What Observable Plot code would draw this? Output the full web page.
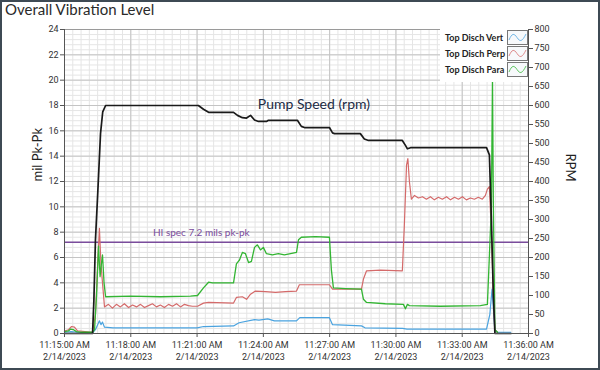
<!DOCTYPE html>
<html>
<head>
<meta charset="utf-8">
<script src="https://cdn.jsdelivr.net/npm/d3@7"></script>
<script src="https://cdn.jsdelivr.net/npm/@observablehq/plot@0.6"></script>
<style>
  body { margin: 0; background: #fff; }
  #wrap { position: relative; width: 600px; height: 370px; overflow: hidden; background: #fff; }
  #title { height: 22px; line-height: 24px; padding-left: 5px; font: 15px Lato, sans-serif; color: #2a2a2a; }
  #border { position: absolute; left: 0; top: 0; right: 0; bottom: 0; border: 2px solid #3e4a54; pointer-events: none; }
  #legend { position: absolute; left: 440px; top: 29px; width: 88px; height: 53px; background: #fff; font: 700 9px Lato, sans-serif; color: #222; }
  .lg-item { position: absolute; left: 5px; height: 15px; line-height: 15px; white-space: nowrap; }
  .lg-sw { position: absolute; left: 67px; }
</style>
</head>
<body>
<div id="wrap">
  <div id="title">Overall Vibration Level</div>
  <div id="chart"></div>
  <div id="legend"></div>
  <div id="border"></div>
</div>
<script>
// ---- data (time in minutes after 11:15:00 on 2/14/2023) ----
const dateLabel = "2/14/2023";
const xTickLabels = ["11:15:00 AM","11:18:00 AM","11:21:00 AM","11:24:00 AM","11:27:00 AM","11:30:00 AM","11:33:00 AM","11:36:00 AM"];
const xTickMinutes = [0, 3, 6, 9, 12, 15, 18, 21];
const milTicks = [0, 2, 4, 6, 8, 10, 12, 14, 16, 18, 20, 22, 24];
const rpmTicks = [0, 50, 100, 150, 200, 250, 300, 350, 400, 450, 500, 550, 600, 650, 700, 750, 800];
const hiSpec = 7.2;

const seriesNames = ["Top Disch Vert", "Top Disch Perp", "Top Disch Para"];
const seriesColors = ["#4aa3df", "#d46a6a", "#33b533"];

const vertT = [0, 0.3, 0.6, 1.27, 1.4, 1.58, 1.65, 1.72, 1.81, 2.2, 4.0, 6.0, 6.3, 7.65, 7.9, 8.6, 8.8, 9.2, 9.5, 10.5, 10.65, 11.99, 12.13, 13.44, 13.6, 15.3, 15.5, 19.1, 19.25, 19.35, 19.41, 19.48, 19.6, 20.2];
const vertV = [0.1, 0.15, 0.1, 0.05, 0.3, 1.0, 0.7, 0.9, 0.5, 0.45, 0.45, 0.45, 0.55, 0.6, 0.85, 1.1, 1.05, 1.15, 1.0, 1.0, 1.25, 1.25, 0.7, 0.6, 0.45, 0.4, 0.35, 0.35, 1.5, 3.5, 2.0, 0.2, 0.1, 0.1];

const perpT = [0, 0.18, 0.32, 0.45, 0.59, 1.27, 1.4, 1.49, 1.58, 1.65, 1.72, 1.81, 1.99, 2.17, 2.35, 2.53, 2.71, 2.9, 3.08, 3.26, 3.44, 3.62, 3.8, 3.98, 4.16, 4.34, 4.52, 4.71, 4.89, 5.07, 5.25, 5.43, 5.61, 5.79, 6.02, 6.29, 6.52, 7.65, 7.78, 8.05, 8.24, 8.42, 8.64, 9.1, 9.55, 10.0, 10.5, 10.63, 11.99, 12.13, 13.44, 13.53, 13.67, 14.3, 15.29, 15.38, 15.48, 15.54, 15.61, 15.7, 15.84, 16.02, 16.2, 16.38, 16.56, 16.74, 16.92, 17.1, 17.29, 17.47, 17.65, 17.83, 18.01, 18.19, 18.37, 18.55, 18.73, 18.91, 19.05, 19.14, 19.23, 19.32, 19.41, 19.48, 19.59];
const perpV = [0.2, 0.3, 0.55, 0.5, 0.2, 0.1, 1.5, 5.0, 8.3, 5.5, 4.0, 2.1, 2.3, 2.0, 2.3, 2.1, 2.35, 2.05, 2.25, 2.1, 2.3, 2.05, 2.2, 2.35, 2.1, 2.25, 2.05, 2.3, 2.15, 2.35, 2.1, 2.3, 2.2, 2.15, 2.15, 2.4, 2.45, 2.4, 2.85, 2.9, 2.7, 3.1, 3.35, 3.3, 3.25, 3.3, 3.35, 3.85, 3.85, 3.5, 3.5, 4.3, 4.95, 5.0, 4.95, 8.5, 13.3, 13.8, 12.0, 10.6, 10.9, 10.7, 10.8, 10.6, 10.8, 10.55, 10.75, 10.6, 10.8, 10.55, 10.75, 10.6, 10.8, 10.55, 10.7, 10.6, 10.75, 10.6, 10.9, 11.4, 11.6, 8.0, 3.0, 0.3, 0.1];

const paraT = [0, 0.18, 0.27, 0.41, 0.54, 0.72, 1.27, 1.36, 1.45, 1.54, 1.61, 1.67, 1.72, 1.79, 1.86, 2.99, 4.34, 5.7, 6.02, 6.29, 6.52, 6.7, 7.65, 7.78, 7.92, 8.05, 8.19, 8.33, 8.46, 8.6, 8.73, 8.87, 9.0, 9.14, 9.41, 9.68, 9.95, 10.23, 10.5, 10.59, 10.72, 11.36, 11.99, 12.08, 12.17, 12.71, 13.44, 13.53, 13.67, 14.52, 15.34, 15.43, 15.52, 15.61, 17.01, 18.82, 19.14, 19.32, 19.37, 19.41, 19.48, 19.6];
const paraV = [0.15, 0.2, 0.35, 0.3, 0.15, 0.1, 0.1, 0.3, 3.0, 6.9, 4.5, 5.5, 6.2, 4.0, 2.9, 2.95, 2.9, 2.95, 3.0, 3.6, 4.05, 4.0, 4.0, 5.5, 5.8, 6.4, 6.3, 5.6, 5.7, 6.8, 7.0, 6.6, 6.8, 6.3, 6.2, 6.3, 6.2, 6.3, 6.4, 7.4, 7.6, 7.65, 7.6, 5.0, 3.6, 3.55, 3.5, 2.7, 2.45, 2.35, 2.3, 1.95, 2.3, 2.2, 2.15, 2.2, 2.3, 10.0, 20.2, 10.0, 0.3, 0.1];

const pumpT = [0, 1.27, 1.33, 1.4, 1.51, 1.63, 1.73, 1.86, 6.06, 6.29, 6.52, 7.65, 7.83, 8.05, 8.24, 8.42, 8.6, 8.78, 9.14, 9.23, 10.54, 10.72, 10.86, 11.99, 12.13, 12.22, 13.39, 13.57, 13.76, 15.29, 15.43, 15.52, 15.66, 19.1, 19.23, 19.32, 19.41, 19.48, 20.2];
const pumpRpm = [0, 0, 87, 245, 376, 526, 583, 600, 600, 590, 582, 582, 574, 568, 567, 574, 562, 558, 558, 561, 561, 545, 542, 542, 528, 526, 526, 512, 508, 508, 495, 486, 489, 489, 470, 300, 100, 0, 0];

// ---- helpers ----
const t0 = Date.UTC(2023, 1, 14, 11, 15, 0);
const toDate = m => new Date(t0 + m * 60000);
const rpmPerMil = 800 / 24;
const rows = (T, V, name) => T.map((t, i) => ({time: toDate(t), value: V[i], series: name}));

const vert = rows(vertT, vertV, seriesNames[0]);
const perp = rows(perpT, perpV, seriesNames[1]);
const para = rows(paraT, paraV, seriesNames[2]);
const pump = pumpT.map((t, i) => ({time: toDate(t), value: pumpRpm[i] / rpmPerMil}));

const majorX = xTickMinutes.map(toDate);
const minorX = d3.range(0, 21.001, 3 / 8).map(toDate);
const minorY = d3.range(0, 24.001, 0.4);
const labelFor = new Map(xTickMinutes.map((m, i) => [+toDate(m), xTickLabels[i] + "\n" + dateLabel]));

const plot = Plot.plot({
  width: 600,
  height: 348,
  marginTop: 7,
  marginLeft: 64,
  marginRight: 72,
  marginBottom: 37,
  style: {fontFamily: "Roboto, sans-serif", fontSize: "9px", color: "#333", background: "#fff"},
  x: {type: "utc", domain: [toDate(0), toDate(21)]},
  y: {domain: [0, 24]},
  marks: [
    Plot.gridX(minorX, {stroke: "#e5e5e5", strokeOpacity: 1}),
    Plot.gridY(minorY, {stroke: "#e5e5e5", strokeOpacity: 1}),
    Plot.gridX(majorX, {stroke: "#c4c4c4", strokeOpacity: 1}),
    Plot.gridY(milTicks, {stroke: "#c4c4c4", strokeOpacity: 1}),
    Plot.frame({stroke: "#9a9a9a"}),
    Plot.ruleY([hiSpec], {stroke: "#7a4c9c", strokeWidth: 1.6}),
    Plot.text(["HI spec 7.2 mils pk-pk"], {x: toDate(4.0), y: hiSpec, dy: -10, textAnchor: "start", fill: "#7a4c9c", fontSize: 10, fontFamily: "Lato, sans-serif"}),
    Plot.line(vert, {x: "time", y: "value", stroke: seriesColors[0], strokeWidth: 1.2}),
    Plot.line(perp, {x: "time", y: "value", stroke: seriesColors[1], strokeWidth: 1.2}),
    Plot.line(para, {x: "time", y: "value", stroke: seriesColors[2], strokeWidth: 1.3}),
    Plot.line(pump, {x: "time", y: "value", stroke: "#1a1a1a", strokeWidth: 1.7}),
    Plot.text(["Pump Speed (rpm)"], {x: toDate(8.75), y: 603 / rpmPerMil, textAnchor: "start", fill: "#1c2b45", fontSize: 14, fontFamily: "Lato, sans-serif"}),
    Plot.axisY(milTicks, {anchor: "left", tickSize: 4, tickPadding: 2, label: null, stroke: "#555"}),
    Plot.axisY(rpmTicks.map(r => r / rpmPerMil), {anchor: "right", tickSize: 4, tickPadding: 2, label: null, stroke: "#555", tickFormat: d => String(Math.round(d * rpmPerMil))}),
    Plot.axisX(majorX, {tickSize: 4, tickPadding: 2, label: null, stroke: "#555", lineHeight: 1.35, tickFormat: d => labelFor.get(+d)}),
    Plot.ruleX([toDate(0)], {stroke: "#555"}),
    Plot.ruleY([0], {stroke: "#555"}),
    Plot.ruleX([toDate(21)], {stroke: "#555"}),
    Plot.text(["mil Pk-Pk"], {frameAnchor: "left", dx: -27, rotate: -90, fontSize: 13, fill: "#222", fontFamily: "Lato, sans-serif"}),
    Plot.text(["RPM"], {frameAnchor: "right", dx: 42, rotate: 90, fontSize: 13, fill: "#222", fontFamily: "Lato, sans-serif"})
  ]
});
document.getElementById("chart").appendChild(plot);

// ---- legend ----
const legend = document.getElementById("legend");
seriesNames.forEach((name, i) => {
  const top = 1 + i * 16;
  const item = document.createElement("div");
  item.className = "lg-item";
  item.style.top = top + "px";
  item.textContent = name;
  legend.appendChild(item);
  const sw = document.createElementNS("http://www.w3.org/2000/svg", "svg");
  sw.setAttribute("width", 21);
  sw.setAttribute("height", 15);
  sw.setAttribute("class", "lg-sw");
  sw.style.top = top + "px";
  sw.innerHTML = `<rect x="0.5" y="0.5" width="20" height="14" fill="#f7f9fb" stroke="#777"/>` +
    `<path d="M2,10 C5,3 7,3 10,7.5 C13,12 15,12 19,4" fill="none" stroke="${seriesColors[i]}" stroke-width="1" opacity="0.75"/>`;
  legend.appendChild(sw);
});
</script>
</body>
</html>
